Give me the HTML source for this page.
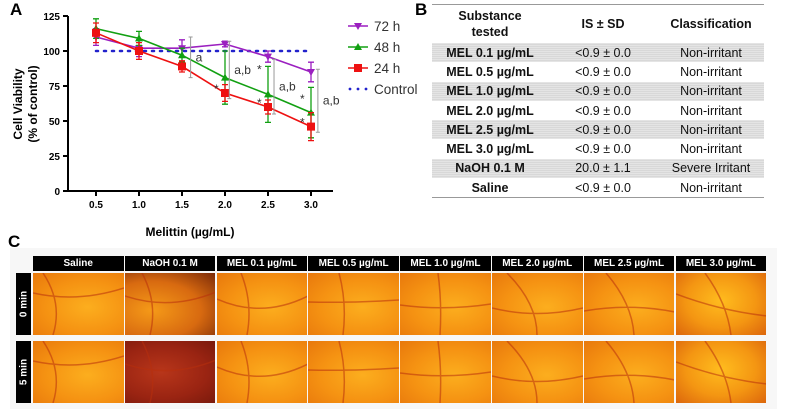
<!DOCTYPE html>
<html><head><meta charset="utf-8">
<style>
body{margin:0;width:789px;height:409px;background:#fff;overflow:hidden;position:relative;font-family:"Liberation Sans",sans-serif}
.abs{position:absolute}
.lbl{font-weight:bold;font-size:17px}
table{border-collapse:collapse;font-family:"Liberation Sans",sans-serif;font-size:12.5px;color:#111}
td{height:19.3px;padding:0;text-align:center}
tr.sh td{background:repeating-linear-gradient(#e4e4e4 0 1px,#d8d8d8 1px 2px)}
.hdr{background:#000;color:#fff;font-size:10px;font-weight:bold;text-align:center;line-height:15px;height:15px;position:absolute}
.ph{position:absolute;overflow:hidden}
.side{position:absolute;background:#000;color:#fff;font-size:10px;font-weight:bold;width:15px}
.side span{position:absolute;left:50%;top:50%;transform:translate(-50%,-50%) rotate(-90deg);white-space:nowrap}
</style></head><body>
<div class="abs lbl" style="left:10px;top:0">A</div>
<div class="abs lbl" style="left:415px;top:0">B</div>
<div class="abs lbl" style="left:8px;top:232px">C</div>

<svg class="abs" style="left:0;top:0" width="430" height="245">
<g id="chart"></g>
</svg>

<div class="abs" style="left:432px;top:4px;width:332px;border-top:1px solid #999;border-bottom:1px solid #999">
<table style="width:100%">
<tr style="font-weight:bold"><td style="height:38px;line-height:16px;width:116px">Substance<br>tested</td><td style="width:110px">IS ± SD</td><td>Classification</td></tr>
<tr class="sh"><td><b>MEL 0.1 µg/mL</b></td><td>&lt;0.9 ± 0.0</td><td>Non-irritant</td></tr>
<tr><td><b>MEL 0.5 µg/mL</b></td><td>&lt;0.9 ± 0.0</td><td>Non-irritant</td></tr>
<tr class="sh"><td><b>MEL 1.0 µg/mL</b></td><td>&lt;0.9 ± 0.0</td><td>Non-irritant</td></tr>
<tr><td><b>MEL 2.0 µg/mL</b></td><td>&lt;0.9 ± 0.0</td><td>Non-irritant</td></tr>
<tr class="sh"><td><b>MEL 2.5 µg/mL</b></td><td>&lt;0.9 ± 0.0</td><td>Non-irritant</td></tr>
<tr><td><b>MEL 3.0 µg/mL</b></td><td>&lt;0.9 ± 0.0</td><td>Non-irritant</td></tr>
<tr class="sh"><td><b>NaOH 0.1 M</b></td><td>20.0 ± 1.1</td><td>Severe Irritant</td></tr>
<tr><td><b>Saline</b></td><td>&lt;0.9 ± 0.0</td><td>Non-irritant</td></tr>
</table></div>

<div class="abs" style="left:10px;top:248px;width:767px;height:161px;background:#f7f7f7"></div>
<div id="photos"></div>

<script>
const doses=[0.5,1.0,1.5,2.0,2.5,3.0];
const v72=[110,102,102,105,96,85];
const e72=[6,6,6,2,4,7];
const v48=[116,109,97,81,69,56];
const e48=[7,5,5,19,20,18];
const v24=[113,100,89,70,60,46];
const e24=[7,6,4,6,5,10];
const yTicks=[0,25,50,75,100,125];
const xTicks=["0.5","1.0","1.5","2.0","2.5","3.0"];
const ns="http://www.w3.org/2000/svg";
const g=document.getElementById('chart');
const X=d=>96+(d-0.5)*86;
const Y=v=>191-v*1.4;
function mk(t,a,p){const e=document.createElementNS(ns,t);for(const k in a)e.setAttribute(k,a[k]);(p||g).appendChild(e);return e;}
let ax=mk('path',{d:`M68 16V191H333`,stroke:'#000','stroke-width':2,fill:'none'});


yTicks.forEach(t=>{mk('line',{x1:63,x2:68,y1:Y(t),y2:Y(t),stroke:'#000','stroke-width':2});
 const tx=mk('text',{x:60,y:Y(t)+4,'text-anchor':'end','font-size':10,'font-weight':'bold'});tx.textContent=t;
 });
xTicks.forEach((t,i)=>{const x=X(doses[i]);mk('line',{x1:x,x2:x,y1:191,y2:196,stroke:'#000','stroke-width':2});
 const tx=mk('text',{x:x,y:208,'text-anchor':'middle','font-size':10,'font-weight':'bold'});tx.textContent=t;
 });
let yt=mk('text',{transform:'translate(24,104) rotate(-90)','text-anchor':'middle','font-size':12,'font-weight':'bold'});
yt.innerHTML='<tspan x="0" dy="-2">Cell Viability</tspan><tspan x="0" dy="15">(% of control)</tspan>';

let xt=mk('text',{x:190,y:236,'text-anchor':'middle','font-size':12,'font-weight':'bold'});xt.textContent='Melittin (µg/mL)';

let cl=mk('line',{x1:X(0.5),x2:X(3.0),y1:Y(100),y2:Y(100),stroke:'#2222cc','stroke-width':2.5,'stroke-dasharray':'2 6','stroke-linecap':'round'});

function series(vals,errs,col,marker,name){
 const sg=mk('g',{});
 mk('polyline',{points:vals.map((v,i)=>X(doses[i])+','+Y(v)).join(' '),fill:'none',stroke:col,'stroke-width':1.6},sg);
 vals.forEach((v,i)=>{const x=X(doses[i]);
  mk('path',{d:`M${x} ${Y(v+errs[i])}V${Y(v-errs[i])}M${x-3} ${Y(v+errs[i])}h6M${x-3} ${Y(v-errs[i])}h6`,stroke:col,'stroke-width':1.3,fill:'none'},sg);
  const y=Y(v);
  if(marker=='sq')mk('rect',{x:x-4,y:y-4,width:8,height:8,fill:col},sg);
  else if(marker=='up')mk('path',{d:`M${x-4} ${y+3}L${x} ${y-4}L${x+4} ${y+3}Z`,fill:col},sg);
  else mk('path',{d:`M${x-4} ${y-3}L${x} ${y+4}L${x+4} ${y-3}Z`,fill:col},sg);
 });}
series(v72,e72,'#9b1fc0','down','series-72h');
series(v48,e48,'#12a012','up','series-48h');
series(v24,e24,'#ee1111','sq','series-24h');
[[1.6,110,81,'a'],[2.05,107,66,'a,b'],[2.57,94,55,'a,b'],[3.08,87,42,'a,b']].forEach(b=>{const x=X(b[0]);
 mk('path',{d:`M${x-2} ${Y(b[1])}h4M${x} ${Y(b[1])}V${Y(b[2])}M${x-2} ${Y(b[2])}h4`,stroke:'#999','stroke-width':1});
 const t=mk('text',{x:x+5,y:Y((b[1]+b[2])/2)+4,'font-size':12,fill:'#333'});t.textContent=b[3];});
[[2.0,70],[2.5,60],[2.5,84],[3.0,46],[3.0,63]].forEach(s=>{const t=mk('text',{x:X(s[0])-11,y:Y(s[1]),'font-size':12,fill:'#333'});t.textContent='*';});
[['72 h','#9b1fc0','down'],['48 h','#12a012','up'],['24 h','#ee1111','sq'],['Control','#2222cc','dot']].forEach((l,i)=>{
 const y=26+i*21,lg=mk('g',{});
 if(l[2]=='dot'){[0,8,16].forEach(d=>mk('circle',{cx:350+d,cy:y,r:1.4,fill:l[1]},lg));}
 else{mk('line',{x1:348,x2:368,y1:y,y2:y,stroke:l[1],'stroke-width':1.6},lg);
  if(l[2]=='sq')mk('rect',{x:354,y:y-4,width:8,height:8,fill:l[1]},lg);
  else if(l[2]=='up')mk('path',{d:`M354 ${y+3}L358 ${y-4}L362 ${y+3}Z`,fill:l[1]},lg);
  else mk('path',{d:`M354 ${y-3}L358 ${y+4}L362 ${y-3}Z`,fill:l[1]},lg);}
 const t=mk('text',{x:374,y:y+5,'font-size':13.5,fill:'#333'},lg);t.textContent=l[0];});

const cols=["Saline","NaOH 0.1 M","MEL 0.1 µg/mL","MEL 0.5 µg/mL","MEL 1.0 µg/mL","MEL 2.0 µg/mL","MEL 2.5 µg/mL","MEL 3.0 µg/mL"];
const P=document.getElementById('photos');
let h='';
cols.forEach((c,i)=>{const x=33+i*91.8;
 h+=`<div class="hdr" style="left:${x}px;top:256px;width:${90.5}px">${c}</div>`;
 [273,341].forEach((y,r)=>{
  let bg='radial-gradient(ellipse at 60% 55%,#fcae1e 0%,#f59212 55%,#e8780c 100%)';
  if(i==1&&r==0)bg='radial-gradient(ellipse at 30% 60%,#f59a18 0%,#d86a10 55%,#7a2a08 100%)';
  if(i==1&&r==1)bg='radial-gradient(ellipse at 40% 50%,#b8361a 0%,#9a2412 60%,#7a1a0c 100%)';
  if(i==7)bg='radial-gradient(ellipse at 50% 45%,#ffbc1e 0%,#f49612 55%,#dc660c 100%)';
  h+=`<div class="ph" style="left:${x}px;top:${y}px;width:90.5px;height:62px;background:${bg}">
  <svg width="91" height="62"><path d="M${10+i*7%30} 0 Q${30+i*3} 30 ${20+i*5%40} 62 M0 ${20+i*3%20} Q45 ${30+i%3*8} 91 ${15+i*4%30}" stroke="#b8300c" stroke-width="1.5" fill="none" opacity=".55"/></svg></div>`;});
});
h+=`<div class="side" style="left:16px;top:273px;height:62px"><span>0 min</span></div>`;
h+=`<div class="side" style="left:16px;top:341px;height:62px"><span>5 min</span></div>`;
P.innerHTML=h;
</script>
</body></html>
